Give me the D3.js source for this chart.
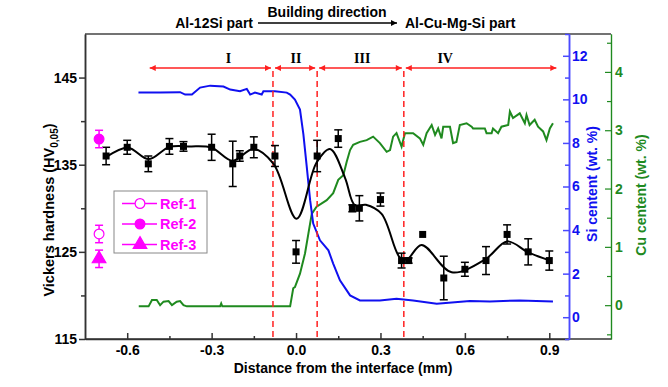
<!DOCTYPE html>
<html>
<head>
<meta charset="utf-8">
<script src="https://cdn.jsdelivr.net/npm/d3@7/dist/d3.min.js"></script>
<style>
  body { margin: 0; background: #fff; }
  svg { display: block; font-family: "Liberation Sans", Arial, sans-serif; }
  .bold { font-weight: bold; }
</style>
</head>
<body>
<svg width="668" height="387"></svg>
<script>
// hardness measurements (mm from interface, HV0.05, error)
var hvX = [-0.675, -0.6, -0.525, -0.45, -0.4, -0.3, -0.225, -0.2, -0.15, -0.075, 0, 0.075,
           0.15, 0.2, 0.225, 0.3, 0.375, 0.4, 0.45, 0.525, 0.6, 0.675, 0.75, 0.825, 0.9];
var hvY = [136.0, 137.0, 135.1, 137.1, 137.1, 137.0, 135.1, 136.0, 137.0, 136.0, 125.0, 136.0,
           138.0, 130.0, 130.0, 131.0, 124.0, 124.0, 127.0, 122.0, 123.0, 124.0, 127.0, 125.0, 124.0];
var hvErr = [1.0, 0.8, 0.9, 0.9, 0.55, 1.5, 2.6, 0.6, 1.2, 1.2, 1.3, 1.8,
             1.0, 0.4, 1.45, 0.75, 0.85, 0.3, 0, 2.5, 0.8, 1.6, 1.1, 1.5, 1.1];

// smoothed trend through the hardness data
var fitX = [-0.674, -0.597, -0.524, -0.45, -0.376, -0.3, -0.225, -0.152, -0.08, 0.002, 0.073,
            0.121, 0.174, 0.209, 0.248, 0.304, 0.369, 0.395, 0.446, 0.553, 0.673, 0.75, 0.825, 0.902];
var fitY = [135.9, 136.95, 135.65, 137.05, 137.1, 136.95, 135.45, 136.8, 135.1, 128.8, 135.25,
            136.8, 133.5, 130.35, 130.4, 129.35, 124.35, 124.15, 125.8, 122.65, 124.15, 126.2, 124.95, 124.0];

// reference alloys
var refNames = ["Ref-1", "Ref-2", "Ref-3"];
var refX = [-0.7, -0.7, -0.7];
var refY = [127.05, 137.95, 124.2];
var refErr = [1.0, 1.0, 1.0];

// Si content profile (wt.%)
var siX = [-0.56, -0.483, -0.412, -0.394, -0.37, -0.341, -0.305, -0.258, -0.234, -0.199, -0.175,
           -0.163, -0.146, -0.122, -0.116, -0.075, -0.033, -0.021, -0.004, 0.014, 0.026, 0.038,
           0.05, 0.061, 0.085, 0.115, 0.132, 0.156, 0.192, 0.227, 0.298, 0.357, 0.416, 0.5,
           0.618, 0.689, 0.795, 0.913];
var siY = [10.32, 10.31, 10.33, 10.22, 10.22, 10.54, 10.63, 10.59, 10.45, 10.37, 10.48,
           10.22, 10.31, 10.22, 10.37, 10.37, 10.31, 10.22, 9.99, 9.53, 8.4, 6.91,
           5.37, 4.3, 3.53, 3.07, 2.46, 1.69, 1.0, 0.77, 0.77, 0.85, 0.77, 0.62,
           0.74, 0.72, 0.77, 0.72];

// Cu content profile (wt.%)
var cuX = [-0.559, -0.524, -0.512, -0.495, -0.483, -0.471, -0.453, -0.441, -0.424, -0.412, -0.4,
           -0.388, -0.27, -0.266, -0.262, -0.021, -0.01, -0.004, 0.014, 0.032, 0.044, 0.056, 0.073,
           0.109, 0.132, 0.15, 0.168, 0.18, 0.192, 0.203, 0.227, 0.251, 0.274, 0.298, 0.322, 0.334,
           0.345, 0.357, 0.375, 0.387, 0.416, 0.44, 0.452, 0.464, 0.482, 0.494, 0.505, 0.517, 0.523,
           0.547, 0.558, 0.57, 0.582, 0.606, 0.624, 0.629, 0.671, 0.677, 0.695, 0.7, 0.718, 0.73,
           0.754, 0.76, 0.771, 0.795, 0.813, 0.819, 0.83, 0.848, 0.86, 0.878, 0.89, 0.902, 0.913];
var cuY = [-0.02, -0.02, 0.09, 0.09, 0.0, 0.06, 0.07, 0.0, 0.06, 0.07, 0.0,
           -0.02, -0.02, 0.03, -0.02, -0.02, 0.29, 0.31, 0.54, 0.89, 1.23, 1.57, 1.69,
           1.8, 1.92, 2.15, 2.23, 2.46, 2.66, 2.75, 2.8, 2.83, 2.89, 2.78, 2.63, 2.66,
           2.89, 2.95, 2.72, 2.95, 2.95, 2.86, 2.75, 2.95, 3.09, 2.92, 3.03, 2.86, 3.06,
           3.06, 2.78, 2.8, 3.09, 3.12, 3.06, 3.03, 3.03, 2.95, 2.95, 3.03, 2.95, 3.06,
           3.09, 3.32, 3.21, 3.29, 3.12, 3.26, 3.09, 3.18, 3.06, 2.98, 2.83, 3.03, 3.12];

// zones
var zoneLabels = ["I", "II", "III", "IV"];
var zoneBounds = [-0.52, -0.082, 0.075, 0.383, 0.925];
var zoneLabelX = [-0.24, 0.0, 0.235, 0.53];

var xTicks = [-0.6, -0.3, 0.0, 0.3, 0.6, 0.9];
var xMinor = [-0.45, -0.15, 0.15, 0.45, 0.75];
var hvTicks = [115, 125, 135, 145];
var hvMinor = [120, 130, 140];
var siTicks = [0, 2, 4, 6, 8, 10, 12];
var siMinor = [-1, 1, 3, 5, 7, 9, 11, 13];
var cuTicks = [0, 1, 2, 3, 4];
var cuMinor = [-0.5, 0.5, 1.5, 2.5, 3.5, 4.5];

var BLUE = "#1010f0", GREEN = "#1f8a1f", RED = "#ff2020", MAG = "#ff00ff";

var svg = d3.select("svg");
var pLeft = 85, pRight = 569, pTop = 34, pBottom = 339, cuPos = 611;

var x = d3.scaleLinear().domain([-0.75, 0.97]).range([pLeft, pRight]);
var y = d3.scaleLinear().domain([115, 150]).range([pBottom, pTop]);
var ySi = d3.scaleLinear().domain([-1, 13]).range([pBottom, pTop]);
var yCu = d3.scaleLinear().domain([-0.58, 4.65]).range([pBottom, pTop]);

var defs = svg.append("defs");
function arrowHead(id, color, w, h) {
  defs.append("marker")
      .attr("id", id)
      .attr("viewBox", "0 0 10 10")
      .attr("refX", 10).attr("refY", 5)
      .attr("markerUnits", "userSpaceOnUse")
      .attr("markerWidth", w).attr("markerHeight", h)
      .attr("orient", "auto-start-reverse")
    .append("path")
      .attr("d", "M0,0 L10,5 L0,10 Z")
      .attr("fill", color);
}
arrowHead("redArrow", RED, 9, 6);
arrowHead("blackArrow", "#000", 9, 6);

// frame
svg.append("line").attr("x1", pLeft).attr("x2", cuPos).attr("y1", pTop).attr("y2", pTop)
    .attr("stroke", "#444").attr("stroke-width", 1.5);

// header
svg.append("text").attr("class", "bold").attr("x", 253).attr("y", 28)
    .attr("text-anchor", "end").attr("font-size", 14).text("Al-12Si part");
svg.append("text").attr("class", "bold").attr("x", 327).attr("y", 17)
    .attr("text-anchor", "middle").attr("font-size", 14).text("Building direction");
svg.append("line").attr("x1", 258).attr("x2", 397).attr("y1", 23).attr("y2", 23)
    .attr("stroke", "#000").attr("stroke-width", 1.3).attr("marker-end", "url(#blackArrow)");
svg.append("text").attr("class", "bold").attr("x", 405).attr("y", 28)
    .attr("font-size", 14).text("Al-Cu-Mg-Si part");

// axes
function minorAxis(gen, vals, size) {
  return gen.tickValues(vals).tickSize(size).tickFormat("");
}
var gx = svg.append("g").attr("transform", "translate(0," + pBottom + ")");
gx.call(d3.axisBottom(x).tickValues(xTicks).tickSizeInner(-6).tickSizeOuter(0).tickPadding(6)
    .tickFormat(function(d) { return d.toFixed(1); }));
gx.append("g").call(minorAxis(d3.axisBottom(x), xMinor, -3).tickSizeOuter(0));
gx.select(".domain").attr("d", "M" + pLeft + ",0H" + cuPos);

var gy = svg.append("g").attr("transform", "translate(" + pLeft + ",0)");
gy.call(d3.axisLeft(y).tickValues(hvTicks).tickSizeInner(6).tickSizeOuter(0).tickPadding(2));
gy.append("g").call(minorAxis(d3.axisLeft(y), hvMinor, 4).tickSizeOuter(0));

var gSi = svg.append("g").attr("transform", "translate(" + pRight + ",0)");
gSi.call(d3.axisRight(ySi).tickValues(siTicks).tickSizeInner(-6).tickSizeOuter(0).tickPadding(3)
    .tickFormat(d3.format("d")));
gSi.append("g").call(minorAxis(d3.axisRight(ySi), siMinor, -4).tickSizeOuter(0));

var gCu = svg.append("g").attr("transform", "translate(" + cuPos + ",0)");
gCu.call(d3.axisRight(yCu).tickValues(cuTicks).tickSizeInner(-6).tickSizeOuter(0).tickPadding(4)
    .tickFormat(d3.format("d")));
gCu.append("g").call(minorAxis(d3.axisRight(yCu), cuMinor, -4).tickSizeOuter(0));

[gx, gy].forEach(function(g) {
  g.selectAll("path, line").attr("stroke", "#333").attr("stroke-width", 1.5);
  g.selectAll("text").attr("fill", "#000");
});
gSi.selectAll("path, line").attr("stroke", "#4a4aff").attr("stroke-width", 1.5);
gSi.selectAll("text").attr("fill", BLUE);
gCu.selectAll("path, line").attr("stroke", GREEN).attr("stroke-width", 1.2);
gCu.selectAll("text").attr("fill", GREEN);
svg.selectAll(".tick text").attr("font-size", 14).attr("font-weight", "bold")
    .attr("font-family", "'Liberation Sans', Arial, sans-serif");

// axis titles
svg.append("text").attr("class", "bold").attr("x", 343).attr("y", 373)
    .attr("text-anchor", "middle").attr("font-size", 14).text("Distance from the interface (mm)");
var yt = svg.append("text").attr("class", "bold").attr("font-size", 14.5)
    .attr("transform", "translate(54,210) rotate(-90)").attr("text-anchor", "middle");
yt.append("tspan").text("Vickers hardness (HV");
yt.append("tspan").attr("font-size", 10).attr("dy", 4).text("0,05");
yt.append("tspan").attr("dy", -4).text(")");
svg.append("text").attr("class", "bold").attr("font-size", 14).attr("fill", BLUE)
    .attr("transform", "translate(597,184) rotate(-90)").attr("text-anchor", "middle")
    .text("Si centent (wt. %)");
svg.append("text").attr("class", "bold").attr("font-size", 14).attr("fill", GREEN)
    .attr("transform", "translate(646,195) rotate(-90)").attr("text-anchor", "middle")
    .text("Cu centent (wt. %)");

// composition profiles
svg.append("path")
    .datum(d3.zip(cuX, cuY))
    .attr("fill", "none").attr("stroke", GREEN).attr("stroke-width", 2)
    .attr("d", d3.line().x(function(d) { return x(d[0]); }).y(function(d) { return yCu(d[1]); }));
svg.append("path")
    .datum(d3.zip(siX, siY))
    .attr("fill", "none").attr("stroke", BLUE).attr("stroke-width", 2)
    .attr("d", d3.line().x(function(d) { return x(d[0]); }).y(function(d) { return ySi(d[1]); }));

// zone boundaries and arrows
var arrowHV = 146.1;
svg.selectAll(".zoneLine")
    .data(zoneBounds.slice(1, 4))
    .enter().append("line")
    .attr("x1", function(d) { return x(d); }).attr("x2", function(d) { return x(d); })
    .attr("y1", y(arrowHV) + 3).attr("y2", pBottom)
    .attr("stroke", RED).attr("stroke-width", 1.5).attr("stroke-dasharray", "6,4");
svg.selectAll(".zoneArrow")
    .data(d3.range(zoneLabels.length))
    .enter().append("line")
    .attr("x1", function(i) { return x(zoneBounds[i]) + (i > 0 ? 2 : 0); })
    .attr("x2", function(i) { return x(zoneBounds[i + 1]) - (i < 3 ? 2 : 0); })
    .attr("y1", y(arrowHV)).attr("y2", y(arrowHV))
    .attr("stroke", RED).attr("stroke-width", 1.5)
    .attr("marker-start", "url(#redArrow)").attr("marker-end", "url(#redArrow)");
svg.selectAll(".zoneLabel")
    .data(zoneLabels)
    .enter().append("text")
    .attr("x", function(d, i) { return x(zoneLabelX[i]); })
    .attr("y", y(arrowHV) - 5)
    .attr("text-anchor", "middle")
    .attr("font-family", "'Liberation Serif', 'Times New Roman', serif")
    .attr("font-weight", "bold").attr("font-size", 14)
    .text(function(d) { return d; });

// hardness fit
svg.append("path")
    .datum(d3.zip(fitX, fitY))
    .attr("fill", "none").attr("stroke", "#000").attr("stroke-width", 2)
    .attr("d", d3.line().curve(d3.curveCatmullRom.alpha(0.5))
        .x(function(d) { return x(d[0]); }).y(function(d) { return y(d[1]); }));

function errorBars(xs, ys, es, color) {
  var g = svg.append("g").attr("stroke", color).attr("stroke-width", 1.5);
  xs.forEach(function(xv, i) {
    if (!es[i]) return;
    var cx = x(xv), y1 = y(ys[i] - es[i]), y2 = y(ys[i] + es[i]);
    g.append("line").attr("x1", cx).attr("x2", cx).attr("y1", y1).attr("y2", y2);
    g.append("line").attr("x1", cx - 4).attr("x2", cx + 4).attr("y1", y1).attr("y2", y1);
    g.append("line").attr("x1", cx - 4).attr("x2", cx + 4).attr("y1", y2).attr("y2", y2);
  });
}
errorBars(hvX, hvY, hvErr, "#000");
svg.selectAll(".hv")
    .data(d3.range(hvX.length))
    .enter().append("rect")
    .attr("x", function(i) { return x(hvX[i]) - 3.5; })
    .attr("y", function(i) { return y(hvY[i]) - 3.5; })
    .attr("width", 7).attr("height", 7).attr("fill", "#000");

// reference points
errorBars(refX, refY, refErr, MAG);
var sym = [d3.symbolCircle, d3.symbolCircle, d3.symbolTriangle];
var symFill = ["#fff", MAG, MAG];
function refMarker(g, i, cx, cy) {
  g.append("path")
      .attr("transform", "translate(" + cx + "," + cy + ")")
      .attr("d", d3.symbol().type(sym[i]).size(i === 2 ? 80 : 75)())
      .attr("fill", symFill[i]).attr("stroke", MAG).attr("stroke-width", 1.2);
}
refNames.forEach(function(n, i) { refMarker(svg, i, x(refX[i]), y(refY[i])); });

// legend
var lg = svg.append("g").attr("transform", "translate(114,191)");
lg.append("rect").attr("width", 93).attr("height", 62)
    .attr("fill", "#fff").attr("stroke", "#888").attr("stroke-width", 1);
refNames.forEach(function(n, i) {
  var ly = 12.5 + i * 20.5;
  lg.append("line").attr("x1", 8).attr("x2", 43).attr("y1", ly).attr("y2", ly)
      .attr("stroke", MAG).attr("stroke-width", 1.5);
  refMarker(lg, i, 26, ly);
  lg.append("text").attr("class", "bold").attr("x", 46).attr("y", ly + 5)
      .attr("font-size", 14.5).attr("fill", MAG).text(n);
});
</script>
</body>
</html>
